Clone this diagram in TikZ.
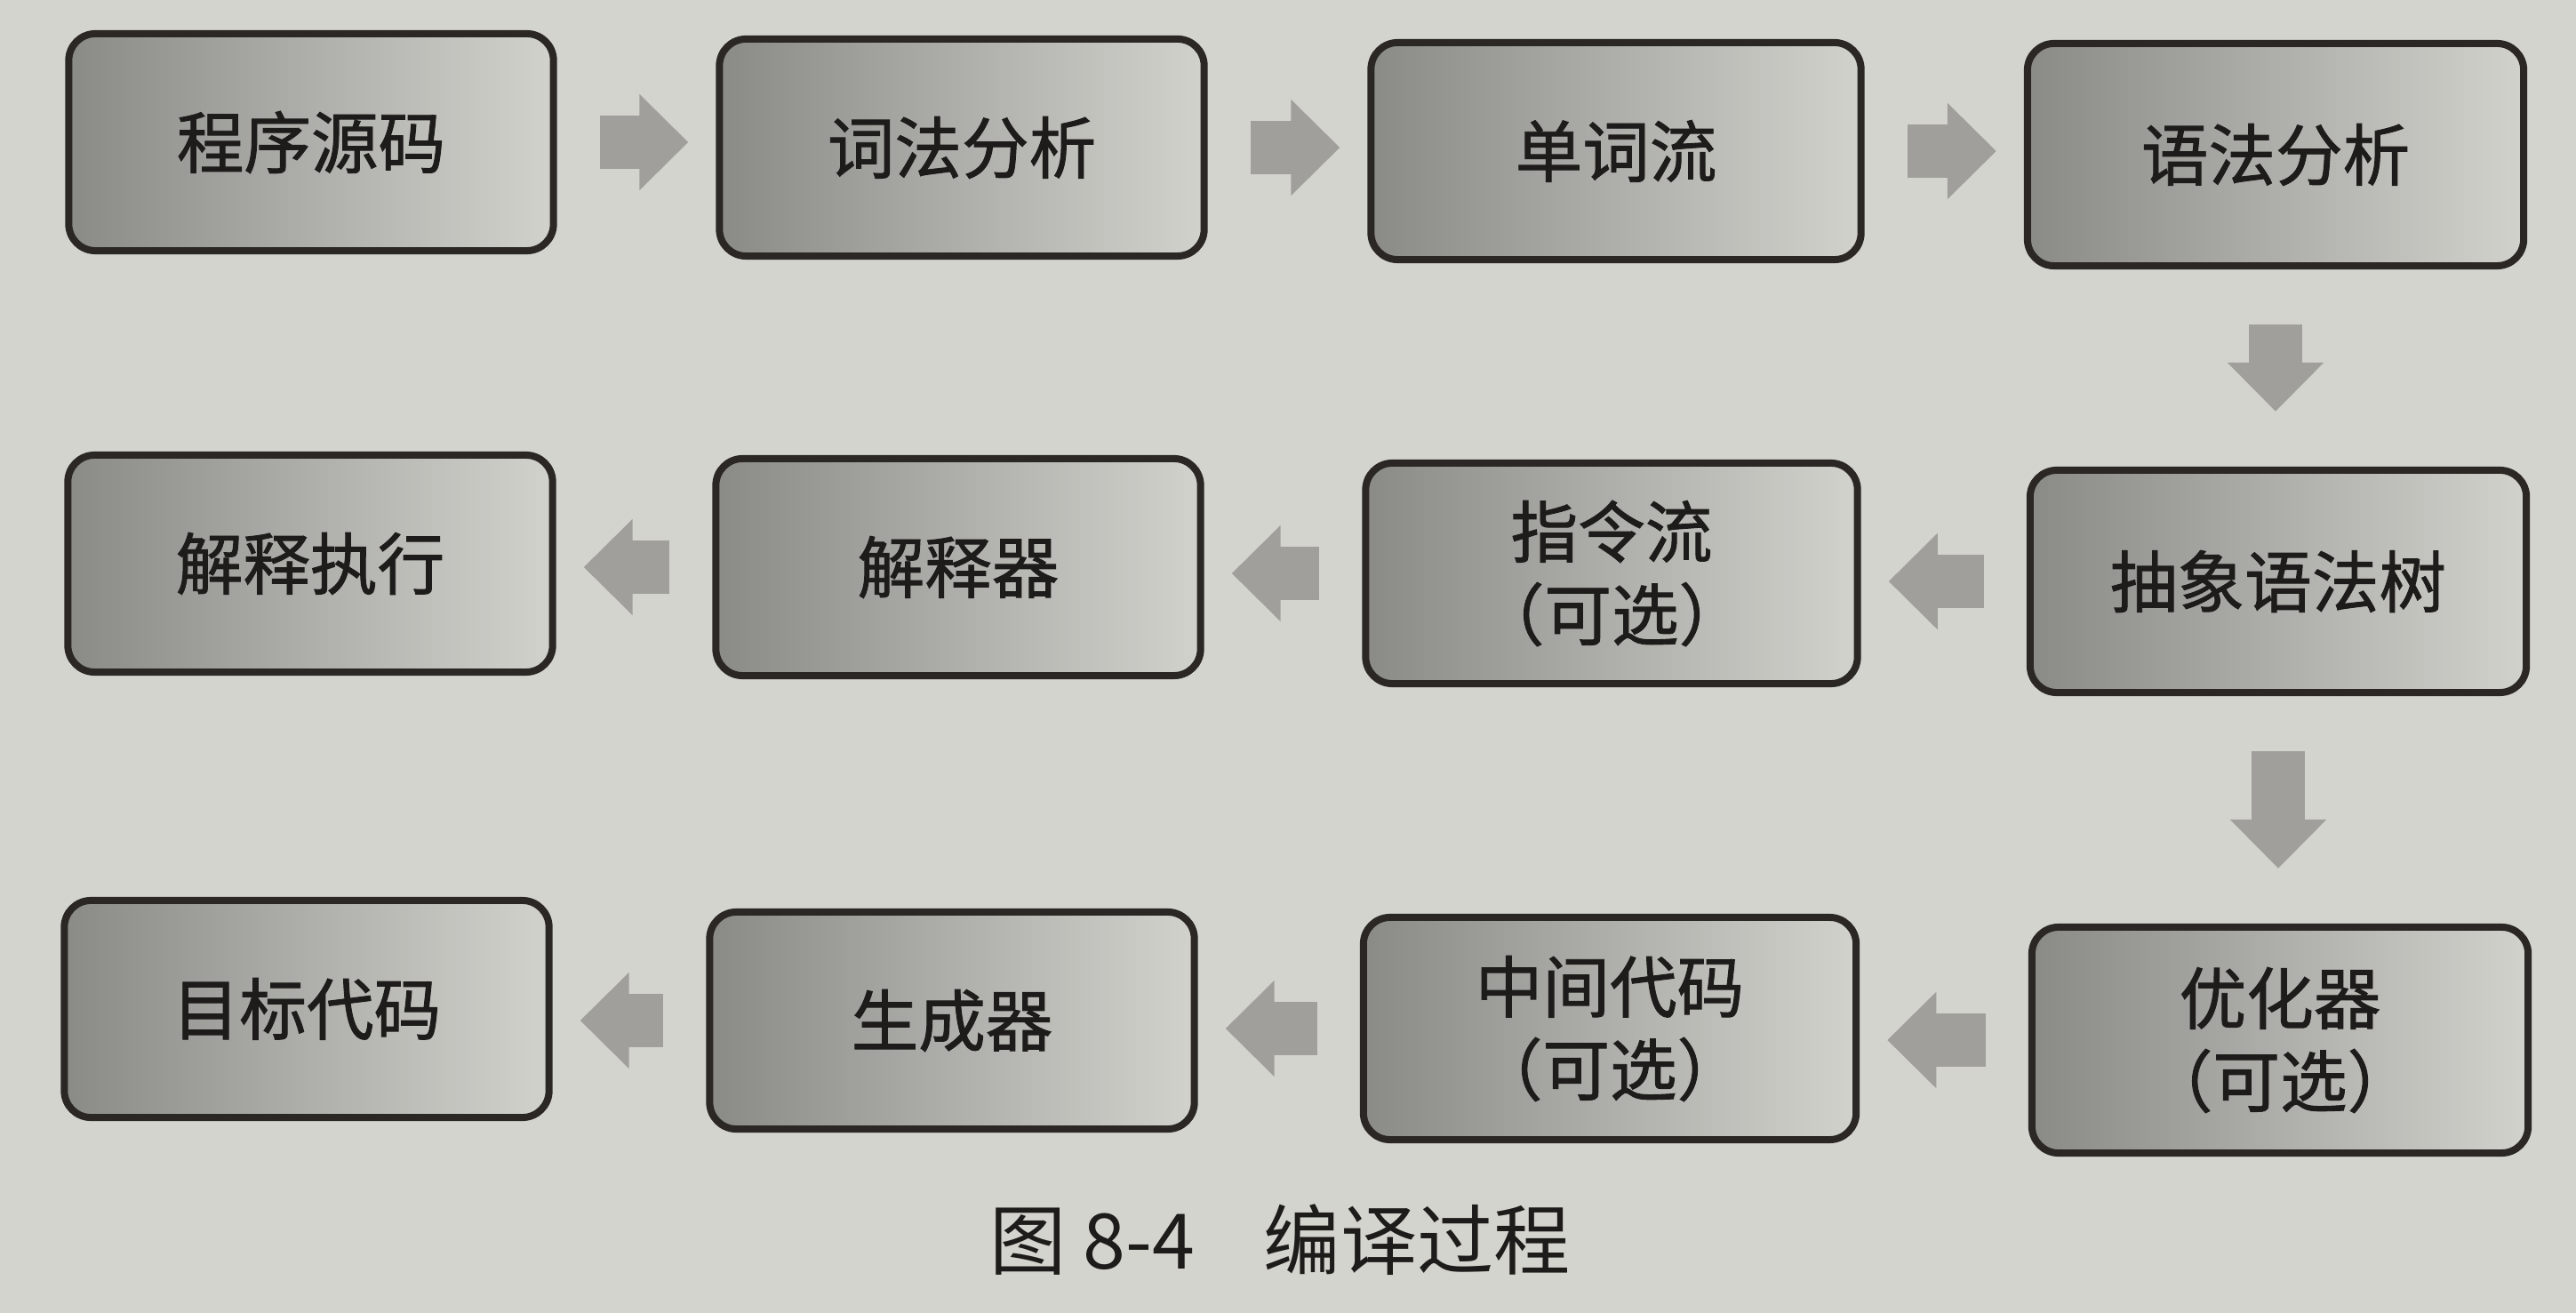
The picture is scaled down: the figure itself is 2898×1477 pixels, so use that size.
\documentclass[tikz,border=0pt]{standalone}
\usepackage{fontspec}
\newfontfamily\cjk{Noto Sans CJK SC}
\newfontfamily\cjkb[FakeBold=1.2]{Noto Sans CJK SC}
\usetikzlibrary{arrows.meta}
\definecolor{pagebg}{RGB}{212,212,206}
\definecolor{boxL}{RGB}{138,138,135}
\definecolor{boxR}{RGB}{210,210,205}
\definecolor{boxedge}{RGB}{42,39,36}
\definecolor{arrowgray}{RGB}{160,159,155}
\definecolor{inkc}{RGB}{30,28,26}
\begin{document}
\begin{tikzpicture}[x=0.01cm,y=-0.01cm,
  stage/.style={draw=boxedge, line width=0.08cm, rounded corners=0.3cm,
    left color=boxL, right color=boxR,
    minimum width=5.45cm, minimum height=2.44cm, inner sep=0pt,
    align=center, text=inkc,
    font=\cjkb\fontsize{21.5}{26.5}\selectfont},
  wide/.style={minimum width=5.58cm, minimum height=2.5cm},
  flow/.style={draw=arrowgray, line width=0.6cm,
    -{Triangle[length=0.55cm,width=1.05cm]},
    shorten <=0.48cm, shorten >=0.31cm},
  downflow/.style={flow, shorten <=0.62cm, shorten >=0.62cm}
]
\fill[pagebg] (0,0) rectangle (2898,1477);
\useasboundingbox (0,0) rectangle (2898,1477);

% row 1
\node[stage] (A) at (350,160) {程序源码};
\node[stage] (B) at (1082,166) {词法分析};
\node[stage, minimum width=5.51cm] (C) at (1818,170) {单词流};
\node[stage, wide] (D) at (2560,174) {语法分析};
% row 2
\node[stage] (E) at (349,634) {解释执行};
\node[stage] (F) at (1078,638) {解释器};
\node[stage, minimum width=5.53cm, minimum height=2.48cm] (G) at (1813,645) {指令流\\（可选）};
\node[stage, wide] (H) at (2563,654) {抽象语法树};
% row 3
\node[stage] (I) at (345,1135) {目标代码};
\node[stage] (J) at (1071,1148) {生成器};
\node[stage, minimum width=5.54cm, minimum height=2.5cm] (K) at (1811,1157) {中间代码\\（可选）};
\node[stage, wide, minimum height=2.54cm] (L) at (2565,1170) {优化器\\（可选）};

% connectors
\draw[flow] (A.east) -- (A.east -| B.west);
\draw[flow] (B.east) -- (B.east -| C.west);
\draw[flow] (C.east) -- (C.east -| D.west);
\draw[downflow] (D.south) -- (D.south |- H.north);
\draw[flow] (H.west) -- (H.west -| G.east);
\draw[flow] (G.west) -- (G.west -| F.east);
\draw[flow] (F.west) -- (F.west -| E.east);
\draw[downflow] (H.south) -- (H.south |- L.north);
\draw[flow] (L.west) -- (L.west -| K.east);
\draw[flow] (K.west) -- (K.west -| J.east);
\draw[flow] (J.west) -- (J.west -| I.east);

% caption
\node[text=inkc, font=\cjk\fontsize{24.5}{28}\selectfont] (cap) at (1440,1395) {图 8-4\hspace{0.9em}编译过程};
\end{tikzpicture}
\end{document}
